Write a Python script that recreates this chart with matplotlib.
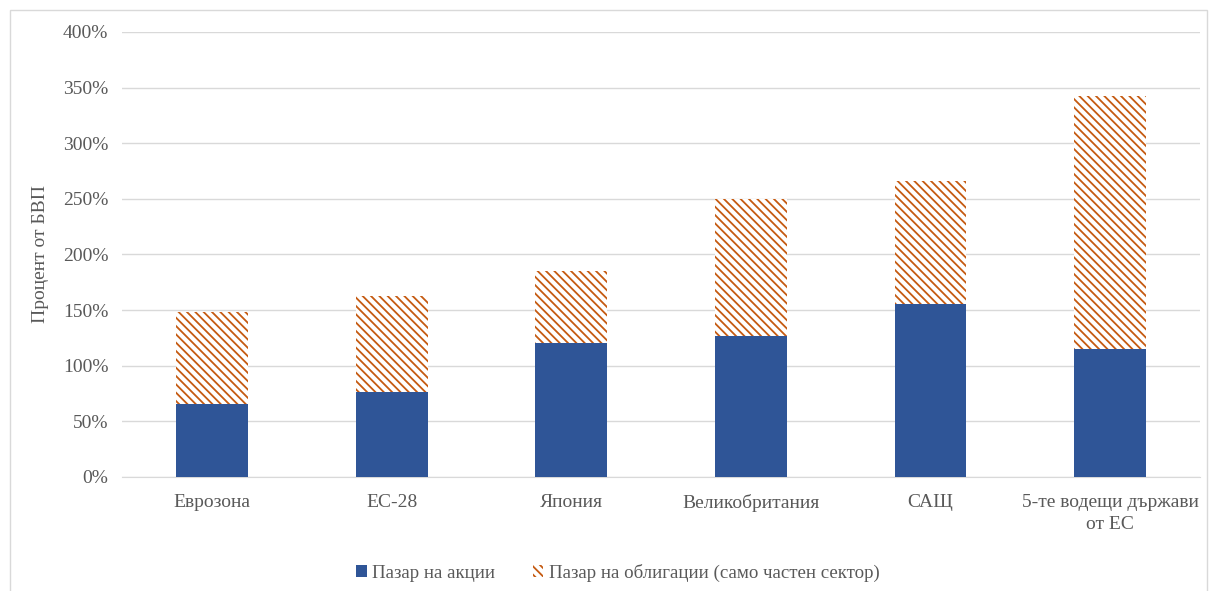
import numpy as np
import matplotlib.pyplot as plt
from matplotlib.patches import Rectangle
from matplotlib.ticker import FuncFormatter

plt.rcParams['font.family'] = ['Liberation Serif', 'DejaVu Serif']
plt.rcParams['hatch.linewidth'] = 1.3

#-------------------------------------------------
#Data
#-------------------------------------------------
categories = ["Еврозона", "ЕС-28", "Япония", "Великобритания", "САЩ",
              "5-те водещи държави\nот ЕС"]
stocks = [66, 76, 120, 127, 155, 115]
bonds = [82, 87, 65, 123, 111, 227]
ticks = [0, 50, 100, 150, 200, 250, 300, 350, 400]

blue = "#2F5597"
orange = "#C55A11"
text_col = "#595959"

fig = plt.figure(figsize=(12.09, 5.91), dpi=100)
ax = fig.add_axes([0.101, 0.193, 0.8916, 0.753])

x = np.arange(len(categories))
ax.bar(x, stocks, width=0.4, color=blue, label="Пазар на акции", zorder=3)
ax.bar(x, bonds, width=0.4, bottom=stocks, color="white", edgecolor=orange,
       hatch="\\\\\\\\", linewidth=0, label="Пазар на облигации (само частен сектор)",
       zorder=3)

ax.set_xlim(-0.5, len(categories) - 0.5)
ax.set_ylim(0, 400)
ax.set_yticks(ticks)
ax.yaxis.set_major_formatter(FuncFormatter(lambda v, p: f"{v:.0f}%"))
ax.set_xticks(x)
ax.set_xticklabels(categories, fontsize=14, color=text_col)
for lbl in ax.get_xticklabels():
    lbl.set_linespacing(1.4)
ax.tick_params(axis='y', labelsize=14, labelcolor=text_col, length=0, pad=10)
ax.tick_params(axis='x', length=0, pad=12)

ax.grid(axis='y', color="#D9D9D9", linewidth=1, zorder=0)
for s in ['top', 'right', 'left']:
    ax.spines[s].set_visible(False)
ax.spines['bottom'].set_color("#D9D9D9")

ax.set_ylabel("Процент от БВП", fontsize=14, color=text_col, labelpad=10)

leg = ax.legend(loc='center', bbox_to_anchor=(0.46, -0.215), ncol=2,
                frameon=False, fontsize=13.6, handlelength=0.55, handleheight=0.55,
                columnspacing=2.0, handletextpad=0.3)
for t in leg.get_texts():
    t.set_color(text_col)

fig.patches.append(Rectangle((0.0085, -0.01), 0.99, 0.993, transform=fig.transFigure,
                             fill=False, edgecolor="#D9D9D9", linewidth=1))

fig.savefig("out.png", dpi=100)
